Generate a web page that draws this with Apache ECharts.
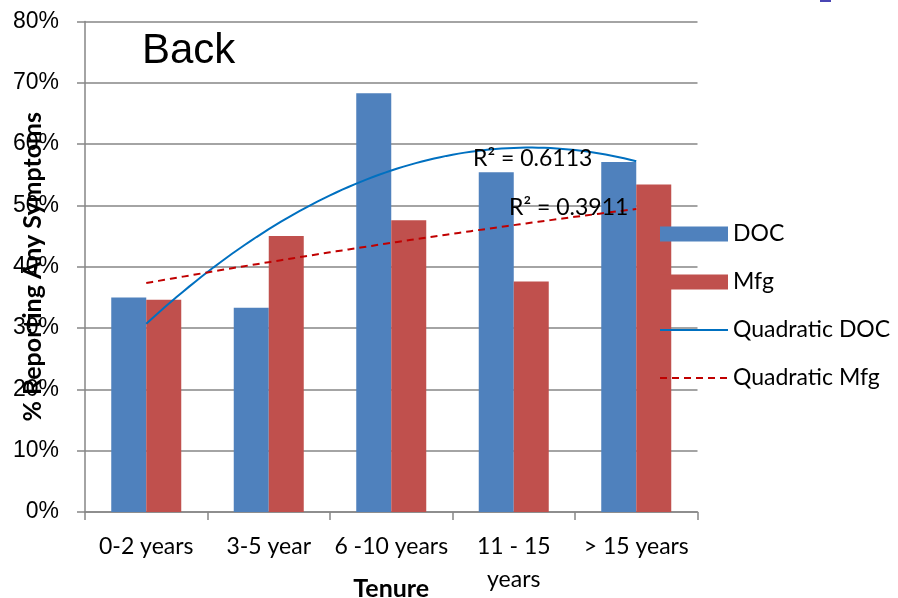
<!DOCTYPE html>
<html>
<head>
<meta charset="utf-8">
<script src="https://cdn.jsdelivr.net/npm/echarts/dist/echarts.min.js"></script>
<style>
  html, body { margin: 0; padding: 0; background: #ffffff; }
  #chart { width: 898px; height: 598px; }
</style>
</head>
<body>
<div id="chart"></div>
<script>
// Share of workers reporting any back symptoms, by tenure
const categories = ['0-2 years', '3-5 year', '6 -10 years', '11 - 15\nyears', '> 15 years'];
const docValues = [0.350, 0.333, 0.683, 0.554, 0.571];
const mfgValues = [0.346, 0.450, 0.476, 0.376, 0.534];
const seriesNames = ['DOC', 'Mfg', 'Quadratic DOC', 'Quadratic Mfg'];
const rSquaredLabels = ['R\u00B2 = 0.6113', 'R\u00B2 = 0.3911'];
const yTickStep = 0.1;
const yMax = 0.8;

// Least-squares quadratic y = a + b*x + c*x^2 over category positions 1..n
function quadraticFit(values) {
  const s = [0, 0, 0, 0, 0];
  const t = [0, 0, 0];
  values.forEach((y, i) => {
    const x = i + 1;
    for (let k = 0; k < 5; k++) s[k] += Math.pow(x, k);
    for (let k = 0; k < 3; k++) t[k] += y * Math.pow(x, k);
  });
  const m = [[s[0], s[1], s[2]], [s[1], s[2], s[3]], [s[2], s[3], s[4]]];
  const det3 = (a) =>
    a[0][0] * (a[1][1] * a[2][2] - a[1][2] * a[2][1]) -
    a[0][1] * (a[1][0] * a[2][2] - a[1][2] * a[2][0]) +
    a[0][2] * (a[1][0] * a[2][1] - a[1][1] * a[2][0]);
  const d = det3(m);
  return [0, 1, 2].map((col) => {
    const mc = m.map((row, r) => row.map((v, c) => (c === col ? t[r] : v)));
    return det3(mc) / d;
  });
}

// Sample the fitted curve between the first and last category centres
function trendPoints(values) {
  const [a, b, c] = quadraticFit(values);
  const pts = [];
  const n = values.length;
  for (let x = 1; x <= n + 1e-9; x += 0.05) {
    pts.push([x, a + b * x + c * x * x]);
  }
  return pts;
}

const calibriLike = 'Lato, "Noto Sans", sans-serif';
const arialLike = '"Liberation Sans", Arial, sans-serif';
const gridGray = '#868686';

const chart = echarts.init(document.getElementById('chart'), null, { renderer: 'canvas' });

chart.setOption({
  animation: false,
  backgroundColor: '#ffffff',
  grid: {
    left: 85, top: 21.5, width: 612.5, height: 490.5,
    containLabel: false, outerBoundsMode: 'none'
  },
  xAxis: [
    {
      type: 'category',
      data: categories,
      name: 'Tenure',
      nameLocation: 'middle',
      nameGap: 64,
      nameMoveOverlap: false,
      nameTextStyle: { fontFamily: calibriLike, fontWeight: 'bold', fontSize: 25, color: '#000' },
      axisLine: { show: true, lineStyle: { color: gridGray, width: 1.5 } },
      axisTick: { show: true, length: 8, lineStyle: { color: gridGray, width: 1.5 } },
      axisLabel: {
        interval: 0, hideOverlap: false,
        fontFamily: calibriLike, fontSize: 23, color: '#000', margin: 18, lineHeight: 33
      },
      splitLine: { show: false }
    },
    {
      type: 'value',
      min: 0.5,
      max: 5.5,
      show: false
    }
  ],
  yAxis: {
    type: 'value',
    min: 0,
    max: yMax,
    interval: yTickStep,
    name: '% Reporting Any Symptoms',
    nameLocation: 'middle',
    nameGap: 40,
    nameMoveOverlap: false,
    nameTextStyle: { fontFamily: calibriLike, fontWeight: 'bold', fontSize: 25, color: '#000' },
    axisLine: { show: true, lineStyle: { color: gridGray, width: 1.5 } },
    axisTick: { show: true, length: 8, lineStyle: { color: gridGray, width: 1.5 } },
    axisLabel: {
      fontFamily: arialLike, fontSize: 23, color: '#000', margin: 26,
      formatter: (v) => Math.round(v * 100) + '%'
    },
    splitLine: { show: true, lineStyle: { color: gridGray, width: 1.5 } }
  },
  legend: {
    orient: 'vertical',
    left: 659,
    top: 222,
    padding: 0,
    itemWidth: 68,
    itemHeight: 15,
    itemGap: 24,
    textStyle: { fontFamily: calibriLike, fontSize: 23, color: '#000', lineHeight: 24 },
    data: [
      { name: seriesNames[0], icon: 'rect' },
      { name: seriesNames[1], icon: 'rect' },
      { name: seriesNames[2], itemStyle: { opacity: 0 } },
      { name: seriesNames[3], itemStyle: { opacity: 0 } }
    ]
  },
  series: [
    {
      name: seriesNames[0],
      type: 'bar',
      data: docValues,
      barWidth: 35,
      barGap: '0%',
      itemStyle: { color: '#4F81BD' }
    },
    {
      name: seriesNames[1],
      type: 'bar',
      data: mfgValues,
      barWidth: 35,
      barGap: '0%',
      itemStyle: { color: '#C0504D' }
    },
    {
      name: seriesNames[2],
      type: 'line',
      xAxisIndex: 1,
      data: trendPoints(docValues),
      symbol: 'none',
      lineStyle: { color: '#0070C0', width: 2 },
      itemStyle: { color: '#0070C0' },
      z: 5
    },
    {
      name: seriesNames[3],
      type: 'line',
      xAxisIndex: 1,
      data: trendPoints(mfgValues),
      symbol: 'none',
      lineStyle: { color: '#C00000', width: 2, type: [7, 5] },
      itemStyle: { color: '#C00000' },
      z: 5
    }
  ],
  graphic: [
    {
      type: 'text',
      left: 142,
      top: 30,
      style: { text: 'Back', font: '42px "Liberation Sans", Arial, sans-serif', fill: '#000' },
      z: 10
    },
    {
      type: 'text',
      x: 473,
      y: 158.5,
      style: {
        text: rSquaredLabels[0], font: '23px Lato, "Noto Sans", sans-serif', fill: '#000',
        textAlign: 'left', textVerticalAlign: 'middle'
      },
      z: 10
    },
    {
      type: 'text',
      x: 509,
      y: 208,
      style: {
        text: rSquaredLabels[1], font: '23px Lato, "Noto Sans", sans-serif', fill: '#000',
        textAlign: 'left', textVerticalAlign: 'middle'
      },
      z: 10
    },
    {
      type: 'rect',
      shape: { x: 820, y: 0, width: 11, height: 2 },
      style: { fill: '#4a46b4' },
      z: 10
    }
  ]
});
</script>
</body>
</html>
